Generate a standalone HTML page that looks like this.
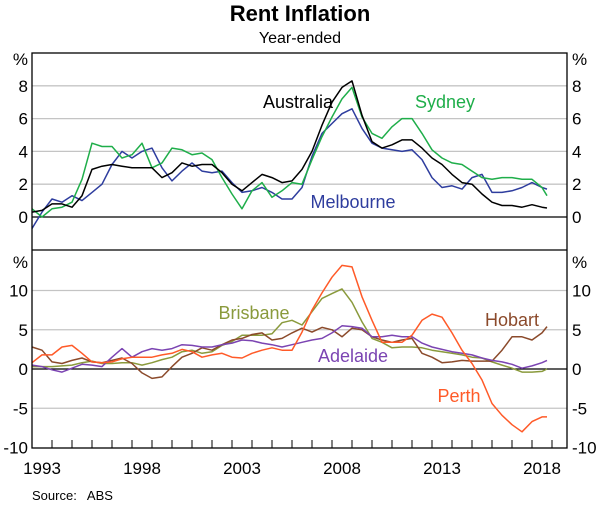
<!DOCTYPE html>
<html><head><meta charset="utf-8"><style>
body{margin:0;background:#fff;width:600px;height:505px;overflow:hidden;font-family:"Liberation Sans",Arial,sans-serif}
</style></head><body>
<svg id="chart" width="600" height="505" xmlns="http://www.w3.org/2000/svg" font-family="Liberation Sans, Arial, sans-serif">
<text x="300" y="21" text-anchor="middle" font-size="22" font-weight="bold">Rent Inflation</text>
<text x="300" y="43" text-anchor="middle" font-size="16">Year-ended</text>
<g id="grid"></g><g id="series"></g><g id="axes"></g>
<text x="32" y="500" font-size="13" xml:space="preserve">Source:   ABS</text>
</svg>
<script>
const dates=[];for(let t=1993;t<=2018.5;t+=0.5)dates.push(t);dates.push(2018.75);
const australia=[0.3,0.4,0.8,0.8,0.6,1.3,2.9,3.1,3.2,3.1,3.0,3.0,3.0,2.4,2.7,3.3,3.1,3.2,3.2,2.7,2.0,1.6,2.1,2.6,2.4,2.1,2.2,2.9,4.0,5.6,7.0,7.9,8.3,6.2,4.6,4.2,4.4,4.7,4.7,4.2,3.6,3.2,2.6,2.1,2.0,1.4,0.9,0.7,0.7,0.6,0.75,0.6,0.55];
const sydney=[0.5,0.0,0.5,0.6,0.9,2.3,4.5,4.3,4.3,3.6,3.8,4.5,3.0,3.3,4.2,4.1,3.8,3.9,3.5,2.4,1.4,0.5,1.6,2.1,1.2,1.6,2.1,2.0,3.5,4.9,6.1,7.2,7.9,6.1,5.1,4.8,5.5,6.0,6.0,5.1,4.1,3.6,3.3,3.2,2.8,2.4,2.3,2.4,2.4,2.3,2.3,1.8,1.3];
const melbourne=[-0.7,0.3,1.1,0.9,1.3,1.0,1.5,2.0,3.2,4.0,3.6,4.0,4.2,3.0,2.2,2.8,3.3,2.8,2.7,2.8,2.1,1.5,1.6,1.8,1.5,1.1,1.1,1.8,3.7,5.1,5.7,6.3,6.6,5.4,4.5,4.2,4.1,4.0,4.1,3.5,2.4,1.8,1.9,1.7,2.4,2.6,1.5,1.5,1.6,1.8,2.1,1.8,1.7];
const perth=[0.8,1.8,1.8,2.8,3.0,2.0,0.9,0.8,0.9,1.3,1.5,1.5,1.5,1.8,2.0,2.5,2.2,1.5,1.8,2.0,1.5,1.4,2.0,2.4,2.7,2.4,2.4,4.7,7.5,9.7,11.7,13.2,13.0,9.2,6.2,3.4,3.4,3.4,4.3,6.2,7.0,6.6,4.6,2.4,0.7,-1.4,-4.4,-5.9,-7.1,-8.0,-6.7,-6.1,-6.1];
const brisbane=[0.3,0.3,0.3,0.4,0.5,0.8,1.0,0.7,0.7,0.8,0.8,0.5,0.8,1.2,1.5,2.2,2.4,2.0,2.2,3.0,3.5,4.3,4.3,4.3,4.5,5.9,6.2,5.6,7.3,9.0,9.6,10.2,8.5,6.0,3.9,3.4,2.7,2.8,2.8,2.7,2.4,2.2,2.0,1.8,1.5,1.4,0.9,0.5,0.1,-0.4,-0.4,-0.3,0.0];
const hobart=[2.8,2.4,0.9,0.7,1.1,1.4,0.9,0.8,1.1,1.4,0.7,-0.5,-1.2,-1.0,0.3,1.5,2.0,2.7,2.4,3.1,3.7,3.9,4.4,4.6,3.7,3.9,4.6,5.2,4.7,5.3,5.0,4.1,5.2,5.0,4.1,3.7,3.4,3.7,3.9,2.0,1.5,0.8,0.9,1.1,1.0,1.0,1.0,2.4,4.1,4.1,3.7,4.6,5.4];
const adelaide=[0.5,0.3,-0.1,-0.4,0.1,0.6,0.5,0.3,1.5,2.6,1.5,2.2,2.6,2.4,2.6,3.1,3.0,2.8,2.8,3.1,3.3,3.7,3.6,3.3,3.1,2.8,3.1,3.4,3.7,3.9,4.6,5.5,5.4,5.2,4.1,4.1,4.3,4.1,4.1,3.3,2.8,2.5,2.2,2.0,1.8,1.4,1.1,0.9,0.6,0.1,0.4,0.8,1.1];
const topTicks=[0,2,4,6,8];
const botTicks=[-10,-5,0,5,10];
const yearLabels=[1993,1998,2003,2008,2013,2018];

const NS="http://www.w3.org/2000/svg";
const L=32,R=567,T=53,MID=250,B=448;
const xs=t=>L+(t-1993)*20;
const yTop=v=>217-v*16.4;
const yBot=v=>369-v*7.85;
function mk(tag,attrs,parent,text){const e=document.createElementNS(NS,tag);for(const k in attrs)e.setAttribute(k,attrs[k]);if(text!==undefined)e.textContent=text;document.getElementById(parent).appendChild(e);return e;}

topTicks.forEach(v=>{if(v!==0){const g=mk('line',{x1:L,x2:R,y1:yTop(v),y2:yTop(v),stroke:'#c4c4c4','stroke-width':1.3},'grid');

}});
botTicks.forEach(v=>{if(v!==0&&v!==-10){const g=mk('line',{x1:L,x2:R,y1:yBot(v),y2:yBot(v),stroke:'#c4c4c4','stroke-width':1.3},'grid');

}});
let z1=mk('line',{x1:L,x2:R,y1:yTop(0),y2:yTop(0),stroke:'#000','stroke-width':1.2},'grid');


let z2=mk('line',{x1:L,x2:R,y1:yBot(0),y2:yBot(0),stroke:'#000','stroke-width':1.2},'grid');



function line(vals,fy,color,name){
  const d=vals.map((v,i)=>(i?'L':'M')+xs(dates[i]).toFixed(1)+' '+fy(v).toFixed(1)).join(' ');
  const p=mk('path',{d:d,fill:'none',stroke:color,'stroke-width':1.5,'stroke-linejoin':'round'},'series');
  
  
}
line(melbourne,yTop,'#2e3d9e','melbourne-line');
line(sydney,yTop,'#1fae4a','sydney-line');
line(australia,yTop,'#000000','australia-line');
line(brisbane,yBot,'#8a9a3c','brisbane-line');
line(hobart,yBot,'#8b4a2b','hobart-line');
line(adelaide,yBot,'#7b44b2','adelaide-line');
line(perth,yBot,'#ff5a28','perth-line');

let fr=mk('rect',{x:L,y:T,width:R-L,height:B-T,fill:'none',stroke:'#000','stroke-width':1.3},'axes');


let dv=mk('line',{x1:L,x2:R,y1:MID,y2:MID,stroke:'#000','stroke-width':1.3},'axes');


for(let y=1994;y<=2019;y++){const t=mk('line',{x1:xs(y),x2:xs(y),y1:B,y2:B-8,stroke:'#000','stroke-width':1},'axes');

}
function lab(x,y,txt,anchor,name,size,color){const e=mk('text',{x:x,y:y,'text-anchor':anchor,'font-size':size||17,fill:color||'#000'},'axes',txt);

}
topTicks.forEach(v=>{lab(28,yTop(v)+6,String(v),'end','top-left-tick-label');lab(572,yTop(v)+6,String(v),'start','top-right-tick-label');});
botTicks.forEach(v=>{lab(28,yBot(v)+6,String(v),'end','bottom-left-tick-label');lab(572,yBot(v)+6,String(v),'start','bottom-right-tick-label');});
lab(28,yTop(10)+12,'%','end','top-left-unit');lab(572,yTop(10)+12,'%','start','top-right-unit');
lab(28,268,'%','end','bottom-left-unit');lab(572,268,'%','start','bottom-right-unit');
yearLabels.forEach(y=>lab(xs(y)+10,474,String(y),'middle','x-year-label'));
lab(298,108,'Australia','middle','australia-label',18,'#000');
lab(445,108,'Sydney','middle','sydney-label',18,'#1fae4a');
lab(353,208,'Melbourne','middle','melbourne-label',18,'#2e3d9e');
lab(254,319,'Brisbane','middle','brisbane-label',18,'#8a9a3c');
lab(353,362,'Adelaide','middle','adelaide-label',18,'#7b44b2');
lab(512,326,'Hobart','middle','hobart-label',18,'#8b4a2b');
lab(459,402,'Perth','middle','perth-label',18,'#ff5a28');
</script>
</body></html>
